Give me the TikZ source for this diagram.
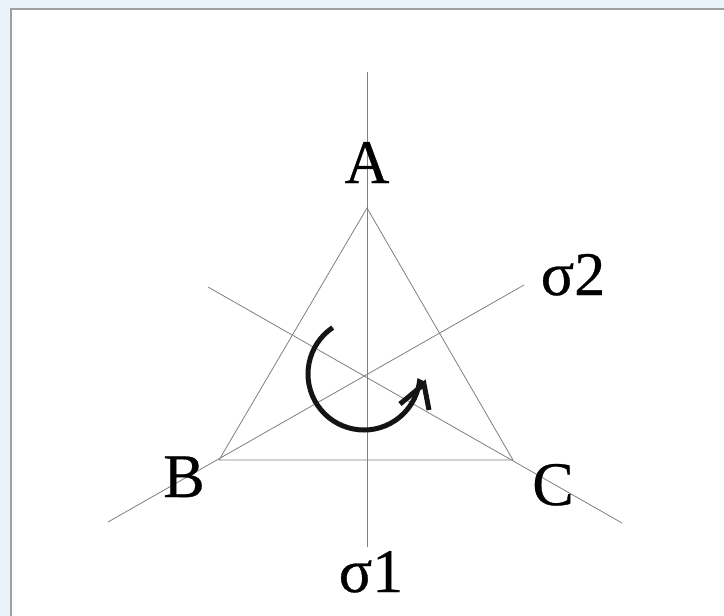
\documentclass[tikz,border=0pt]{standalone}
\usepackage{fontspec}
\setmainfont{Liberation Serif}
\newfontfamily\lblfont[FakeBold=0.5]{Liberation Serif}
\definecolor{bgblue}{RGB}{235,243,250}
\definecolor{framegray}{RGB}{160,160,160}
\definecolor{axisgray}{RGB}{128,128,128}
\tikzset{
  axisline/.style={draw=axisgray, line width=0.8pt},
  trisides/.style={draw=axisgray, line width=0.8pt},
  biglabel/.style={font=\lblfont\fontsize{62}{70}\selectfont, anchor=base, inner sep=0pt, text=black},
  rotarrow/.style={line width=5pt, draw=black!92},
  rothead/.style={line width=5pt, draw=black!92, line join=miter}
}
\begin{document}
\begin{tikzpicture}[x=1pt,y=-1pt]
\useasboundingbox (0,0) rectangle (724,616);
\fill[bgblue] (0,0) rectangle (724,616);
\fill[white] (10.5,9) rectangle (724,616);
\draw[framegray, line width=2pt] (10.5,616) -- (10.5,9) -- (724,9);
% points
\coordinate (O) at (367,376);
\coordinate (A) at (367,208);
\coordinate (B) at (219,460);
\coordinate (C) at (513,460);
\coordinate (atop) at (367,72);
\coordinate (abot) at (367,547);
\coordinate (bfar) at (108,522);
\coordinate (bnear) at (524,285);
\coordinate (cfar) at (622,523);
\coordinate (cnear) at (208,287);
% axes
\draw[axisline] (atop) -- (abot);
\draw[axisline] (bfar) -- (bnear);
\draw[axisline] (cnear) -- (cfar);
% triangle
\draw[trisides] (A) -- (B) -- (C) -- cycle;
% labels
\node[biglabel] (lA) at (367,183) {A};
\node[biglabel] (lB) at (184,497) {B};
\node[biglabel] (lC) at (553,505) {C};
\node[biglabel] (ls1) at (371,592) {σ1};
\node[biglabel] (ls2) at (573,295) {σ2};
% rotation arrow
\coordinate (rc) at (364,374);
\coordinate (hl) at (400,404);
\coordinate (ht) at (424,384);
\coordinate (hr) at (429,410);
\draw[rotarrow] ([shift={(236:56)}]rc) arc[start angle=236, end angle=8, radius=56] -- (ht);
\draw[rothead] (hl) -- (ht) -- (hr);
\end{tikzpicture}
\end{document}
